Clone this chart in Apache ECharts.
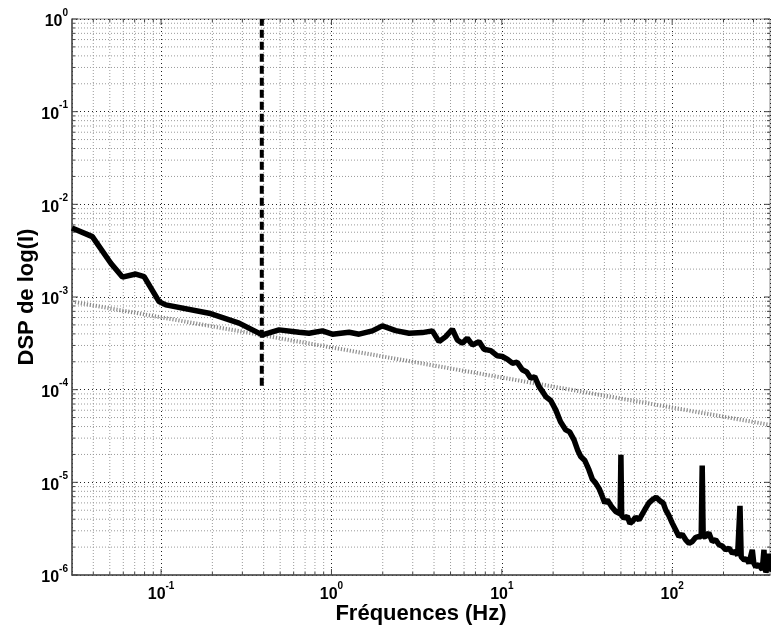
<!DOCTYPE html>
<html><head><meta charset="utf-8">
<script src="https://cdn.jsdelivr.net/npm/echarts@6/dist/echarts.min.js"></script>
<style>html,body{margin:0;padding:0;background:#fff}#c{width:771px;height:630px}</style>
</head><body><div id="c"></div>
<script>
// ---- data ----
const freq = [0.03,0.0395,0.0507,0.0593,0.0710,0.0795,0.0973,0.1066,0.1913,0.2869,0.393,0.4927,0.6454,0.7386,0.8843,1.012,1.269,1.452,1.738,1.989,2.384,2.854,3.417,3.909,4.28,4.686,5.123,5.482,5.866,6.273,6.713,7.348,7.862,8.608,9.41,10.07,10.8,11.53,12.3,13.19,14.0,14.78,15.6,16.54,17.3,18.10,19.4,20.72,22.1,23.71,25.0,26.53,27.8,29.04,30.7,32.48,34.0,35.56,37.2,38.89,40.2,41.60,44.0,46.61,49.5,50,50.5,52.14,54.5,56.5,58.33,61.0,63.87,67.0,69.91,73.0,76.42,80.5,85.61,88.5,91.58,95.5,100.1,104.5,109.6,114.5,120.0,125.5,131.2,137.5,143.7,148,150,152,157.3,164.0,171.9,180.0,188.2,197.0,206.1,215.5,225.3,235.0,242.0,246,250,254,257.8,265.0,274.0,282.3,289.0,295.2,301.0,309.0,322.0,337.9,342.0,345.7,349.0,355.0,361.5,368.0,375];
const dsp = [5.56e-3,4.48e-3,2.31e-3,1.64e-3,1.77e-3,1.66e-3,8.92e-4,8.22e-4,6.69e-4,5.22e-4,3.90e-4,4.42e-4,4.17e-4,4.07e-4,4.31e-4,3.97e-4,4.17e-4,3.97e-4,4.31e-4,4.88e-4,4.34e-4,4.07e-4,4.13e-4,4.31e-4,3.30e-4,3.74e-4,4.49e-4,3.44e-4,3.17e-4,3.59e-4,3.04e-4,3.30e-4,2.73e-4,2.64e-4,2.32e-4,2.28e-4,2.12e-4,1.93e-4,1.98e-4,1.64e-4,1.55e-4,1.33e-4,1.38e-4,1.08e-4,9.6e-5,8.42e-5,7.6e-5,6.05e-5,4.5e-5,3.68e-5,3.5e-5,2.87e-5,2.25e-5,1.90e-5,1.72e-5,1.36e-5,1.08e-5,9.80e-6,8.6e-6,7.03e-6,6.0e-6,6.47e-6,5.5e-6,4.84e-6,4.57e-6,1.98e-5,4.35e-6,4.11e-6,4.3e-6,3.6e-6,3.78e-6,4.2e-6,3.94e-6,4.6e-6,5.27e-6,6.0e-6,6.47e-6,6.9e-6,6.21e-6,6.0e-6,5.05e-6,4.4e-6,3.63e-6,3.1e-6,2.60e-6,2.75e-6,2.40e-6,2.2e-6,2.30e-6,2.55e-6,2.60e-6,2.59e-6,1.52e-5,2.59e-6,2.60e-6,2.85e-6,2.30e-6,2.4e-6,2.12e-6,2.05e-6,1.87e-6,1.95e-6,1.72e-6,1.8e-6,1.62e-6,1.65e-6,5.58e-6,1.57e-6,1.52e-6,1.45e-6,1.5e-6,1.34e-6,1.4e-6,1.87e-6,1.35e-6,1.23e-6,1.3e-6,1.14e-6,1.1e-6,1.87e-6,1.2e-6,1.08e-6,1.14e-6,1.7e-6,1.09e-6];
const refFreq = [0.03, 375];
const refDsp = [8.92e-4, 4.17e-5];
const cutFreq = [0.39, 0.39];
const cutDsp = [1.1e-4, 1];
const xMin = 0.03, xMax = 375, yMin = 1e-6, yMax = 1;
const xMajor = [0.1, 1, 10, 100];
const yMajor = [1e-6, 1e-5, 1e-4, 1e-3, 1e-2, 1e-1, 1];
const xTitle = 'Fréquences (Hz)';
const yTitle = 'DSP de log(I)';

// minor tick positions (2..9 x 10^k) inside the ranges
function minors(lo, hi, kFrom, kTo) {
  const out = [];
  for (let k = kFrom; k <= kTo; k++) for (let m = 2; m <= 9; m++) {
    const v = m * Math.pow(10, k);
    if (v > lo * 1.0001 && v < hi * 0.9999) out.push(v);
  }
  return out;
}
const xMinor = minors(xMin, xMax, -2, 2);
const yMinor = minors(yMin, yMax, -6, -1);

function expLabel(v) {
  const e = Math.round(Math.log10(v));
  if (Math.abs(Math.log10(v) - e) > 1e-6) return '';
  return '{b|10}{s|' + e + '}';
}
const rich = {
  b: {fontFamily: 'Liberation Sans', fontWeight: 'bold', fontSize: 16, lineHeight: 22, verticalAlign: 'bottom', color: '#000'},
  s: {fontFamily: 'Liberation Sans', fontWeight: 'bold', fontSize: 10, lineHeight: 11, verticalAlign: 'top', color: '#000'}
};

const chart = echarts.init(document.getElementById('c'), null, {renderer: 'canvas'});

function tickGroup(api, isX, v, major) {
  const len = major ? 6 : 3;
  const children = [];
  const gridStyle = major ? null : {stroke: '#9a9a9a', lineWidth: 1, lineDash: [1, 2]};
  if (isX) {
    const a = api.coord([v, yMin]), b = api.coord([v, yMax]);
    if (gridStyle) children.push({type: 'line', shape: {x1: a[0], y1: a[1], x2: b[0], y2: b[1]}, style: gridStyle});
    children.push({type: 'line', shape: {x1: a[0], y1: a[1], x2: a[0], y2: a[1] - len}, style: {stroke: '#444', lineWidth: 1}});
    children.push({type: 'line', shape: {x1: b[0], y1: b[1], x2: b[0], y2: b[1] + len}, style: {stroke: '#444', lineWidth: 1}});
  } else {
    const a = api.coord([xMin, v]), b = api.coord([xMax, v]);
    if (gridStyle) children.push({type: 'line', shape: {x1: a[0], y1: a[1], x2: b[0], y2: b[1]}, style: gridStyle});
    children.push({type: 'line', shape: {x1: a[0], y1: a[1], x2: a[0] + len, y2: a[1]}, style: {stroke: '#444', lineWidth: 1}});
    children.push({type: 'line', shape: {x1: b[0], y1: b[1], x2: b[0] - len, y2: b[1]}, style: {stroke: '#444', lineWidth: 1}});
  }
  return {type: 'group', children};
}

const option = {
  animation: false,
  backgroundColor: '#fff',
  grid: {left: 72, right: 1, top: 19, bottom: 55, show: true, borderColor: '#8a8a8a', borderWidth: 1},
  xAxis: {
    type: 'log', logBase: 10, min: xMin, max: xMax,
    name: xTitle, nameLocation: 'middle', nameGap: 28, nameMoveOverlap: false,
    nameTextStyle: {fontFamily: 'Liberation Sans', fontWeight: 'bold', fontSize: 22, color: '#000', verticalAlign: 'top'},
    axisLine: {show: true, lineStyle: {color: '#4a4a4a', width: 1.5}},
    axisTick: {show: false},
    axisLabel: {formatter: expLabel, rich: rich, margin: 6, showMinLabel: false, showMaxLabel: false},
    splitLine: {show: true, lineStyle: {color: '#222', type: [1, 3], width: 1}},
    minorTick: {show: false}, minorSplitLine: {show: false}
  },
  yAxis: {
    type: 'log', logBase: 10, min: yMin, max: yMax,
    name: yTitle, nameLocation: 'middle', nameGap: 34, nameMoveOverlap: false,
    nameTextStyle: {fontFamily: 'Liberation Sans', fontWeight: 'bold', fontSize: 22, color: '#000'},
    axisLine: {show: true, lineStyle: {color: '#4a4a4a', width: 1.5}},
    axisTick: {show: false},
    axisLabel: {formatter: expLabel, rich: rich, margin: 4},
    splitLine: {show: true, lineStyle: {color: '#222', type: [1, 3], width: 1}},
    minorTick: {show: false}, minorSplitLine: {show: false}
  },
  series: [
    {
      type: 'custom', z: 1, silent: true, clip: false,
      data: xMinor.map(v => [v, yMin, 0]).concat(xMajor.map(v => [v, yMin, 1])),
      encode: {x: 0, y: 1},
      renderItem: (p, api) => tickGroup(api, true, api.value(0), api.value(2) === 1)
    },
    {
      type: 'custom', z: 1, silent: true, clip: false,
      data: yMinor.map(v => [xMin, v, 0]).concat(yMajor.map(v => [xMin, v, 1])),
      encode: {x: 0, y: 1},
      renderItem: (p, api) => tickGroup(api, false, api.value(1), api.value(2) === 1)
    },
    {
      type: 'line', z: 2, silent: true, showSymbol: false,
      data: refFreq.map((f, i) => [f, refDsp[i]]),
      lineStyle: {color: '#8c8c8c', width: 4, type: [1.2, 1.8]}
    },
    {
      type: 'line', z: 3, silent: true, showSymbol: false,
      data: freq.map((f, i) => [f, dsp[i]]),
      lineStyle: {color: '#000', width: 5.5, join: 'bevel'}
    },
    {
      type: 'line', z: 4, silent: true, showSymbol: false,
      data: cutFreq.map((f, i) => [f, cutDsp[i]]),
      lineStyle: {color: '#000', width: 4, type: [8, 4]}
    }
  ]
};
chart.setOption(option);
</script>
</body></html>
